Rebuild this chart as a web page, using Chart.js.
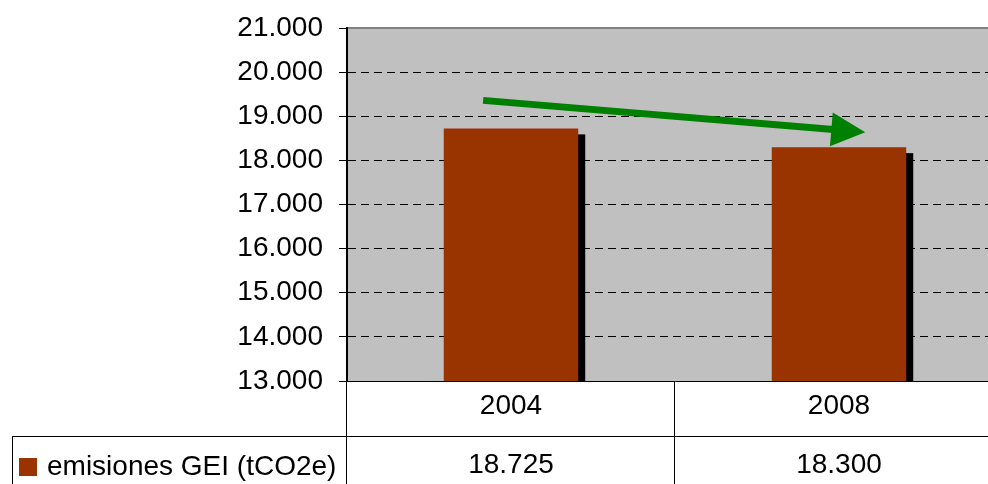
<!DOCTYPE html>
<html lang="es">
<head>
    <meta charset="UTF-8">
    <title>emisiones GEI</title>
    <script src="https://cdn.jsdelivr.net/npm/chart.js"></script>
    <style>
        body {
            margin: 0;
            padding: 0;
            background-color: #fff;
            overflow: hidden;
        }
        canvas {
            display: block;
        }
    </style>
</head>
<body>
    <canvas id="grafico" width="1008" height="484"></canvas>

    <script>
        // datos del gráfico
        const years = ['2004', '2008'];
        const emisiones = [18725, 18300];
        const serieLabel = 'emisiones GEI (tCO2e)';
        const yMin = 13000;
        const yMax = 21000;
        const yStep = 1000;
        // flecha de tendencia: [índice de categoría, valor]
        const flechaDesde = [-0.085, 19360];
        const flechaHasta = [1.08, 18640];

        const FUENTE = "'Liberation Sans', Arial, sans-serif";

        // 18725 -> "18.725"
        function formato(v) {
            return String(Math.round(v)).replace(/\B(?=(\d{3})+(?!\d))/g, '.');
        }

        // fondo gris del área de trazado
        const fondoPlugin = {
            id: 'fondo',
            beforeDraw(chart) {
                const { ctx, chartArea: a } = chart;
                ctx.save();
                ctx.fillStyle = '#c0c0c0';
                ctx.fillRect(a.left, a.top, a.right - a.left, a.bottom - a.top);
                ctx.strokeStyle = '#808080';
                ctx.lineWidth = 2;
                ctx.beginPath();
                ctx.moveTo(a.left, a.top);
                ctx.lineTo(a.right, a.top);
                ctx.stroke();
                ctx.restore();
            }
        };

        // sombra negra detrás de cada barra
        const sombraPlugin = {
            id: 'sombra',
            beforeDatasetsDraw(chart) {
                const { ctx, chartArea: a } = chart;
                const meta = chart.getDatasetMeta(0);
                ctx.save();
                ctx.fillStyle = '#000';
                meta.data.forEach(bar => {
                    const { x, y, width } = bar.getProps(['x', 'y', 'width'], true);
                    ctx.fillRect(x - width / 2 + 7, y + 6, width, a.bottom - y - 6);
                });
                ctx.restore();
            }
        };

        // flecha verde y tabla de datos
        const extrasPlugin = {
            id: 'extras',
            afterDraw(chart) {
                const { ctx, chartArea: a } = chart;
                const xs = chart.scales.x;
                const ys = chart.scales.y;

                // flecha
                const x1 = xs.getPixelForValue(flechaDesde[0]);
                const y1 = ys.getPixelForValue(flechaDesde[1]);
                const x2 = xs.getPixelForValue(flechaHasta[0]);
                const y2 = ys.getPixelForValue(flechaHasta[1]);
                const ang = Math.atan2(y2 - y1, x2 - x1);
                const largoPunta = 34;
                const anchoPunta = 17;
                const bx = x2 - largoPunta * Math.cos(ang);
                const by = y2 - largoPunta * Math.sin(ang);
                ctx.save();
                ctx.strokeStyle = '#008000';
                ctx.fillStyle = '#008000';
                ctx.lineWidth = 7;
                ctx.beginPath();
                ctx.moveTo(x1, y1);
                ctx.lineTo(bx + 2 * Math.cos(ang), by + 2 * Math.sin(ang));
                ctx.stroke();
                ctx.beginPath();
                ctx.moveTo(x2, y2);
                ctx.lineTo(bx - anchoPunta * Math.sin(ang), by + anchoPunta * Math.cos(ang));
                ctx.lineTo(bx + anchoPunta * Math.sin(ang), by - anchoPunta * Math.cos(ang));
                ctx.closePath();
                ctx.fill();
                ctx.restore();

                // tabla
                const fila1 = a.bottom + 55;
                const altoTotal = chart.height;
                const izqTabla = 12;
                ctx.save();
                ctx.strokeStyle = '#000';
                ctx.lineWidth = 1;
                ctx.beginPath();
                ctx.moveTo(izqTabla, fila1 + 0.5);
                ctx.lineTo(chart.width, fila1 + 0.5);
                ctx.moveTo(izqTabla + 0.5, fila1);
                ctx.lineTo(izqTabla + 0.5, altoTotal);
                for (let i = 0; i <= years.length; i++) {
                    const xl = Math.round(xs.getPixelForValue(i - 0.5)) - 0.5;
                    ctx.moveTo(xl, a.bottom);
                    ctx.lineTo(xl, altoTotal);
                }
                ctx.stroke();

                const yTexto = fila1 + 29;
                ctx.fillStyle = '#000';
                ctx.font = '28px ' + FUENTE;
                ctx.textBaseline = 'middle';
                ctx.textAlign = 'center';
                emisiones.forEach((v, i) => {
                    ctx.fillText(formato(v), xs.getPixelForValue(i), yTexto);
                });

                // leyenda dentro de la tabla
                ctx.fillStyle = chart.data.datasets[0].backgroundColor;
                ctx.fillRect(19, yTexto - 7, 18, 18);
                ctx.fillStyle = '#000';
                ctx.textAlign = 'left';
                ctx.fillText(chart.data.datasets[0].label, 47, yTexto + 2);
                ctx.restore();
            }
        };

        const ctx = document.getElementById('grafico').getContext('2d');
        new Chart(ctx, {
            type: 'bar',
            data: {
                labels: years,
                datasets: [{
                    label: serieLabel,
                    data: emisiones,
                    backgroundColor: '#993300',
                    borderWidth: 0,
                    categoryPercentage: 1,
                    barPercentage: 0.41
                }]
            },
            options: {
                responsive: false,
                animation: false,
                layout: {
                    padding: { top: 28, right: 5, bottom: 0, left: 0 }
                },
                plugins: {
                    legend: { display: false },
                    tooltip: { enabled: false }
                },
                scales: {
                    x: {
                        grid: { display: false },
                        border: { display: true, color: '#000', width: 1 },
                        ticks: {
                            color: '#000',
                            padding: 0,
                            font: { family: FUENTE, size: 28 }
                        },
                        afterFit(scale) {
                            scale.height = 103;
                        }
                    },
                    y: {
                        min: yMin,
                        max: yMax,
                        grid: {
                            color: c => (c.tick && (c.tick.value === yMin || c.tick.value === yMax)) ? 'rgba(0,0,0,0)' : '#000',
                            lineWidth: 1,
                            tickColor: '#000',
                            tickLength: 8,
                            tickBorderDash: []
                        },
                        border: { display: true, color: '#000', width: 2, dash: [8, 5] },
                        ticks: {
                            stepSize: yStep,
                            color: '#000',
                            padding: 16,
                            font: { family: FUENTE, size: 28 },
                            callback: v => formato(v)
                        },
                        afterFit(scale) {
                            scale.width = 347;
                            scale.paddingTop = 0;
                            scale.paddingBottom = 0;
                        }
                    }
                }
            },
            plugins: [fondoPlugin, sombraPlugin, extrasPlugin]
        });
    </script>
</body>
</html>
